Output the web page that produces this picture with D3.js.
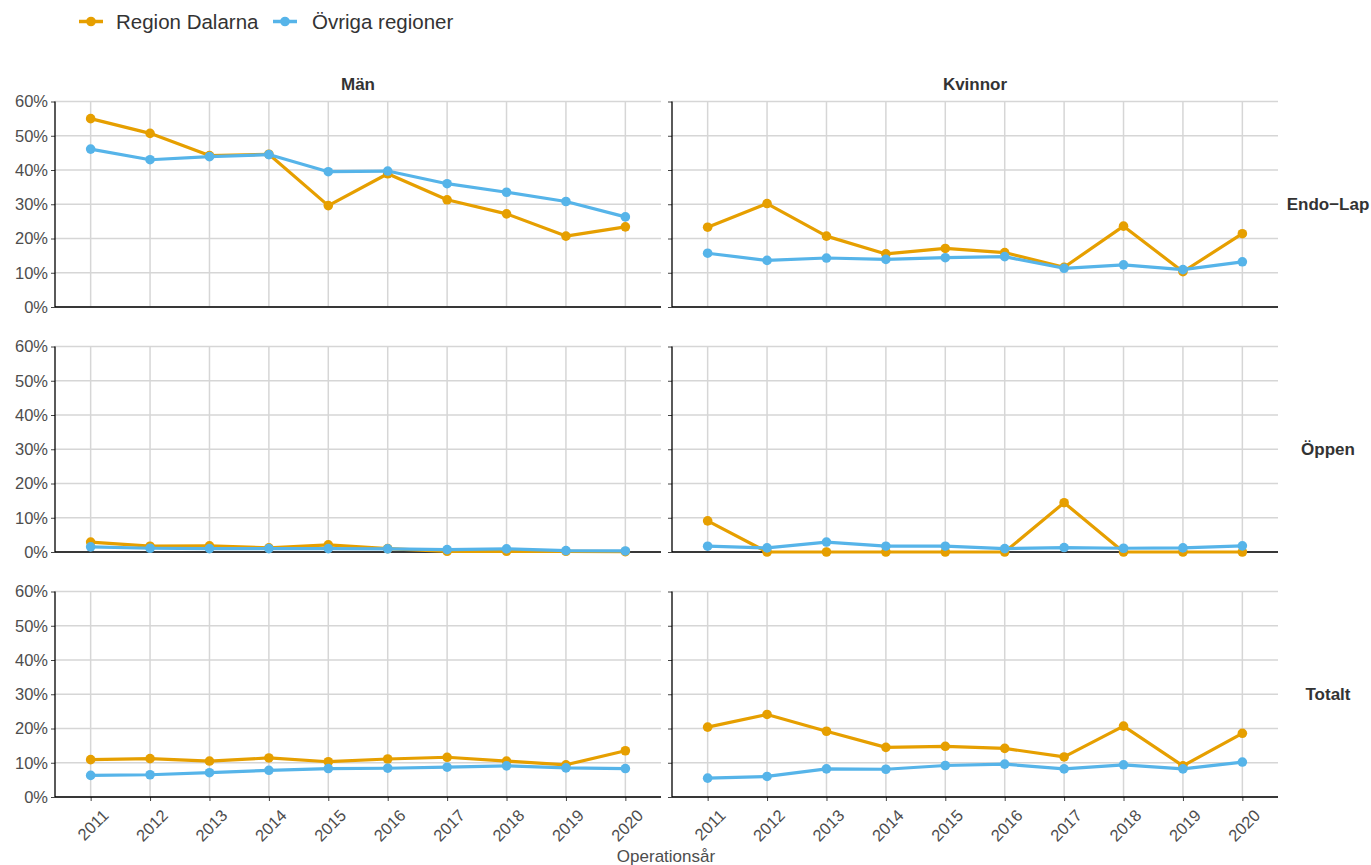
<!DOCTYPE html>
<html><head><meta charset="utf-8">
<script src="https://cdn.jsdelivr.net/npm/d3@7/dist/d3.min.js"></script>
<style>body{margin:0;background:#fff;} text{font-family:"Liberation Sans",Arial,sans-serif;}</style>
</head><body><svg id="c" width="1371" height="865"></svg>
<script>
const years = [2011,2012,2013,2014,2015,2016,2017,2018,2019,2020];
const colLabels = ["Män","Kvinnor"];
const rowLabels = ["Endo\u2212Lap","Öppen","Totalt"];
const seriesNames = ["Region Dalarna","Övriga regioner"];
const seriesColors = ["#E69F00","#56B4E9"];
const yTicks = [0,10,20,30,40,50,60];

// Män
const manEndoDalarna = [55.0,50.7,44.2,44.6,29.6,38.9,31.3,27.2,20.7,23.4];
const manEndoOvriga  = [46.1,43.0,43.9,44.5,39.5,39.7,36.0,33.5,30.8,26.3];
const manOppenDalarna = [2.9,1.7,1.8,1.2,2.1,1.0,0.2,0.2,0.2,0.1];
const manOppenOvriga  = [1.5,1.1,1.0,1.0,1.0,0.9,0.7,0.9,0.4,0.3];
const manTotDalarna = [10.9,11.2,10.5,11.4,10.3,11.1,11.6,10.5,9.4,13.5];
const manTotOvriga  = [6.3,6.5,7.1,7.8,8.3,8.4,8.7,9.1,8.5,8.3];
// Kvinnor
const kvEndoDalarna = [23.3,30.2,20.7,15.5,17.1,15.9,11.6,23.6,10.3,21.4];
const kvEndoOvriga  = [15.7,13.6,14.3,13.9,14.4,14.7,11.3,12.3,10.9,13.2];
const kvOppenDalarna = [9.1,0,0,0,0,0,14.4,0,0,0];
const kvOppenOvriga  = [1.7,1.2,2.9,1.7,1.7,1.0,1.3,1.1,1.2,1.8];
const kvTotDalarna = [20.4,24.1,19.2,14.5,14.8,14.2,11.7,20.7,9.1,18.6];
const kvTotOvriga  = [5.5,6.0,8.2,8.1,9.2,9.6,8.2,9.4,8.2,10.2];

const panels = [
  [[manEndoDalarna,manEndoOvriga],[kvEndoDalarna,kvEndoOvriga]],
  [[manOppenDalarna,manOppenOvriga],[kvOppenDalarna,kvOppenOvriga]],
  [[manTotDalarna,manTotOvriga],[kvTotDalarna,kvTotOvriga]]
];

const svg = d3.select("#c");
const panelX = [55, 672], panelW = 606;
const panelY = [101.5, 346.5, 591.5], panelH = 205.5;
const gridCol = "#d6d6d6", txtCol = "#4d4d4d";
const FF = "'Liberation Sans',Arial,sans-serif";

const x = d3.scalePoint().domain(years).padding(0.6);
const y = d3.scaleLinear().domain([0,60]);

panels.forEach((row, ri) => {
  row.forEach((ser, ci) => {
    const g = svg.append("g").attr("transform", `translate(${panelX[ci]},${panelY[ri]})`);
    x.range([0, panelW]);
    y.range([panelH, 0]);
    // grid
    g.selectAll(".gy").data(yTicks).join("line")
      .attr("x1",0).attr("x2",panelW).attr("y1",d=>y(d)).attr("y2",d=>y(d))
      .attr("stroke",gridCol).attr("stroke-width",1.5);
    g.selectAll(".gx").data(years).join("line")
      .attr("x1",d=>x(d)).attr("x2",d=>x(d)).attr("y1",0).attr("y2",panelH)
      .attr("stroke",gridCol).attr("stroke-width",1.5);
    // y axis
    const ya = d3.axisLeft(y).tickValues(yTicks).tickSize(4).tickPadding(3)
      .tickFormat(ci===0 ? (d=>d+"%") : (()=> ""));
    const yg = g.append("g").call(ya);
    yg.select(".domain").remove();
    yg.selectAll("line").attr("stroke","#444").attr("stroke-width",1);
    yg.selectAll("text").attr("fill",txtCol).style("font-size","16.5px")
      .style("font-family",FF);
    // x axis
    if (ri === 2) {
      const xa = d3.axisBottom(x).tickSize(4).tickPadding(2);
      const xg = g.append("g").attr("transform",`translate(0,${panelH})`).call(xa);
      xg.select(".domain").remove();
      xg.selectAll("line").attr("stroke","#444").attr("stroke-width",1);
      xg.selectAll("text").attr("fill",txtCol).style("font-size","16.5px")
        .style("font-family",FF)
        .attr("text-anchor","end").attr("dy",null).attr("y",null)
        .attr("transform","translate(10,11) rotate(-45)").attr("dominant-baseline","hanging");
    }
    // axis lines
    g.append("line").attr("x1",0).attr("x2",0).attr("y1",0).attr("y2",panelH)
      .attr("stroke","#000").attr("stroke-width",1.3);
    g.append("line").attr("x1",0).attr("x2",panelW).attr("y1",panelH).attr("y2",panelH)
      .attr("stroke","#000").attr("stroke-width",1.3);
    // series
    ser.forEach((vals, si) => {
      const pts = years.map((yr,i)=>[yr, vals[i]]);
      g.append("path").datum(pts)
        .attr("d", d3.line().x(d=>x(d[0])).y(d=>y(d[1])))
        .attr("fill","none").attr("stroke",seriesColors[si]).attr("stroke-width",3.2)
        .attr("stroke-linejoin","round");
      g.selectAll(null).data(pts).join("circle")
        .attr("cx",d=>x(d[0])).attr("cy",d=>y(d[1])).attr("r",4.8)
        .attr("fill",seriesColors[si]);
    });
  });
});

// column strips
colLabels.forEach((c,ci)=>{
  svg.append("text").attr("x",panelX[ci]+panelW/2).attr("y",90)
    .attr("text-anchor","middle").attr("font-weight","bold").attr("fill","#333")
    .style("font-size","17px").text(c);
});
// row strips
rowLabels.forEach((r,ri)=>{
  svg.append("text").attr("x",1328).attr("y",panelY[ri]+panelH/2+6)
    .attr("text-anchor","middle").attr("font-weight","bold").attr("fill","#333")
    .style("font-size","17px").text(r);
});
// x title
svg.append("text").attr("x",666).attr("y",862).attr("text-anchor","middle")
  .attr("fill",txtCol).style("font-size","17px").text("Operationsår");

// legend
const legX = [79, 273], legTextX = [116, 312];
seriesNames.forEach((s,si)=>{
  const lg = svg.append("g");
  lg.append("line").attr("x1",legX[si]).attr("x2",legX[si]+24).attr("y1",21.5).attr("y2",21.5)
    .attr("stroke",seriesColors[si]).attr("stroke-width",3.5);
  lg.append("circle").attr("cx",legX[si]+12).attr("cy",21.5).attr("r",4.8).attr("fill",seriesColors[si]);
  lg.append("text").attr("x",legTextX[si]).attr("y",28.5).attr("fill","#333")
    .style("font-size","20.5px").text(s);
});
</script></body></html>
